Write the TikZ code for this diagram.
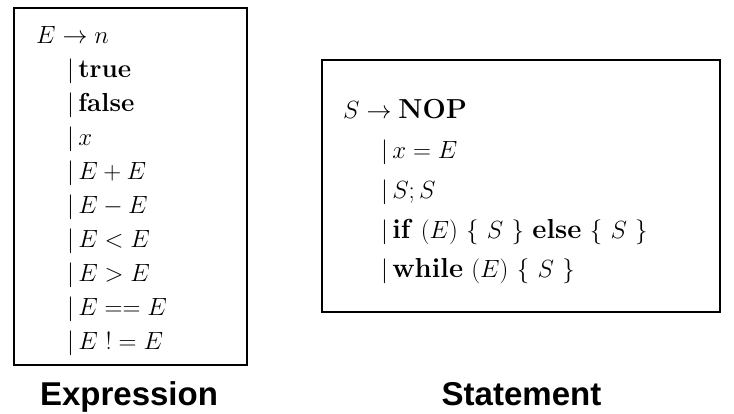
\documentclass[tikz,border=0pt]{standalone}
\usepackage{amsmath}
\usepackage{amssymb}
\usepackage{fontspec}
\setsansfont{Liberation Sans}
\tikzset{grammar box/.style={draw,line width=2pt,inner sep=0pt},
 prod/.style={anchor=base west,inner sep=0pt,
  font=\fontsize{26}{30}\selectfont},
 big prod/.style={prod,font=\fontsize{27.5}{32}\selectfont},
 caption/.style={anchor=base,inner sep=0pt,
  font=\fontsize{33}{36}\selectfont\sffamily\bfseries},
 }

\begin{document}
\begin{tikzpicture}[x=1pt,y=-1pt]
        \useasboundingbox (0,0) rectangle (734,413);
        % expressions
        \node[grammar box,minimum width=233pt,minimum height=357pt]
            (exprbox) at (130.5,186.5) {};
        \node[prod] (e0) at (36,43) {$E \rightarrow n$};
        \node[prod] (e1) at (67,77.1) {$|\,$\textbf{true}};
        \node[prod] (e2) at (67,111.2) {$|\,$\textbf{false}};
        \node[prod] (e3) at (67,145.3) {$|\,x$};
        \node[prod] (e4) at (67,179.4) {$|\,E + E$};
        \node[prod] (e5) at (67,213.5) {$|\,E - E$};
        \node[prod] (e6) at (67,247.6) {$|\,E < E$};
        \node[prod] (e7) at (67,281.7) {$|\,E > E$};
        \node[prod] (e8) at (67,315.8) {$|\,E == E$};
        \node[prod] (e9) at (67,349.9) {$|\,E\ ! = E$};
        \node[caption] (exprcap) at (129,405) {Expression};
        % statements
        \node[grammar box,minimum width=398pt,minimum height=252pt]
            (stmtbox) at (521,186) {};
        \node[big prod] (s0) at (343,118) {$S \rightarrow \textbf{NOP}$};
        \node[big prod] (s1) at (381,158) {$|\,x = E$};
        \node[big prod] (s2) at (381,198) {$|\,S; S$};
        \node[big prod] (s3) at (381,238)
            {$|\,$\textbf{if} $(E)\ \{\ S\ \}$ \textbf{else} $\{\ S\ \}$};
        \node[big prod] (s4) at (381,277)
            {$|\,$\textbf{while} $(E)\ \{\ S\ \}$};
        \node[caption] (stmtcap) at (521.5,405) {Statement};
    \end{tikzpicture}
\end{document}
